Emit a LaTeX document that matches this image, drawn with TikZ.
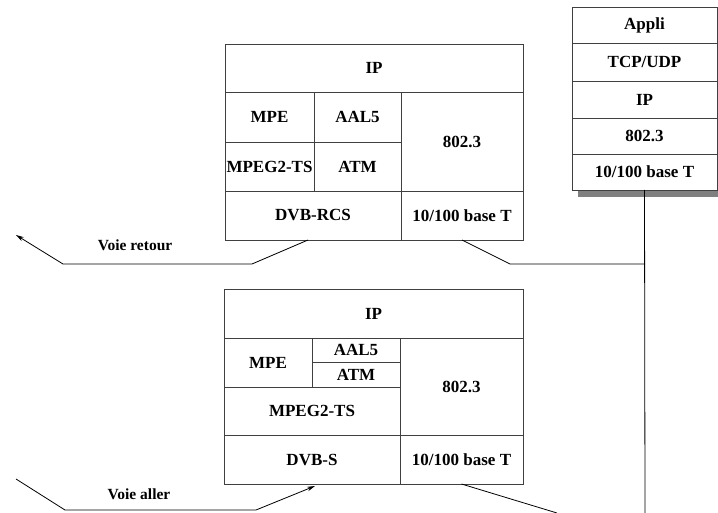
\documentclass[tikz,border=0pt]{standalone}
\usepackage{fontspec}
\setmainfont{Liberation Serif}
\usetikzlibrary{arrows.meta}
\tikzset{
  cell/.style={draw=black!75, line width=0.8pt, inner sep=0pt, outer sep=0pt,
    font=\fontsize{17}{19}\selectfont\bfseries, align=center},
  conn/.style={draw=black, line width=0.8pt},
  lab/.style={font=\fontsize{15.5}{17}\selectfont\bfseries, inner sep=0pt},
  tip/.style={-{Stealth[length=8pt,width=4.5pt]}}
}
\newcommand\mycell[6]{%
  \node[cell, minimum width={(#4-#2)*1pt}, minimum height={(#5-#3)*1pt}]
    (#1) at ({(#2+#4)/2},{(#3+#5)/2}) {#6};}
\begin{document}
\begin{tikzpicture}[x=1pt,y=-1pt]
\useasboundingbox (0,0) rectangle (718,513);
% top block
\mycell{tIP}{225}{44}{523}{92}{IP}
\mycell{tMPE}{225}{92}{314}{142}{MPE}
\mycell{tAAL}{314}{92}{401}{142}{AAL5}
\mycell{tMPEG}{225}{142}{314}{191}{MPEG2-TS}
\mycell{tATM}{314}{142}{401}{191}{ATM}
\mycell{tE}{401}{92}{523}{191}{802.3}
\mycell{tDVB}{225}{191}{401}{240}{DVB-RCS}
\mycell{tBase}{401}{191}{523}{240}{10/100 base T}
% bottom block
\mycell{bIP}{224}{289}{523}{338}{IP}
\mycell{bMPE}{224}{338}{312}{387}{MPE}
\mycell{bAAL}{312}{338}{400}{362}{AAL5}
\mycell{bATM}{312}{362}{400}{387}{ATM}
\mycell{bMPEG}{224}{387}{400}{435}{MPEG2-TS}
\mycell{bE}{400}{338}{523}{435}{802.3}
\mycell{bDVB}{224}{435}{400}{484}{DVB-S}
\mycell{bBase}{400}{435}{523}{484}{10/100 base T}
% right stack
\fill[black!50] (578,190) rectangle (718,197);
\mycell{sA}{572}{7}{717}{43}{Appli}
\mycell{sT}{572}{43}{717}{81}{TCP/UDP}
\mycell{sI}{572}{81}{717}{118}{IP}
\mycell{sE}{572}{118}{717}{154}{802.3}
\mycell{sB}{572}{154}{717}{190}{10/100 base T}
% bend points
\coordinate (r1) at (252,264);
\coordinate (r2) at (63,264);
\coordinate (r3) at (16,235);
\coordinate (k1) at (510,264);
\coordinate (k2) at (645,264);
\coordinate (v1) at (645,513);
\coordinate (a0) at (16,479);
\coordinate (a1) at (65,510);
\coordinate (a2) at (256,510);
\coordinate (e1) at (557,513);
% connectors
\draw[conn, tip] ([xshift=-5pt]tDVB.south) -- (r1) -- (r2) -- (r3);
\draw[conn] (tBase.south) -- (k1) -- (k2);
\draw[conn] (sB.south) -- (v1);
\draw[conn, tip] (a0) -- (a1) -- (a2) -- ([xshift=3pt,yshift=-2pt]bDVB.south);
\draw[conn] (bBase.south) -- (e1);
% labels
\node[lab] (lr) at (135,245) {Voie retour};
\node[lab] (la) at (139,494) {Voie aller};
\end{tikzpicture}
\end{document}
